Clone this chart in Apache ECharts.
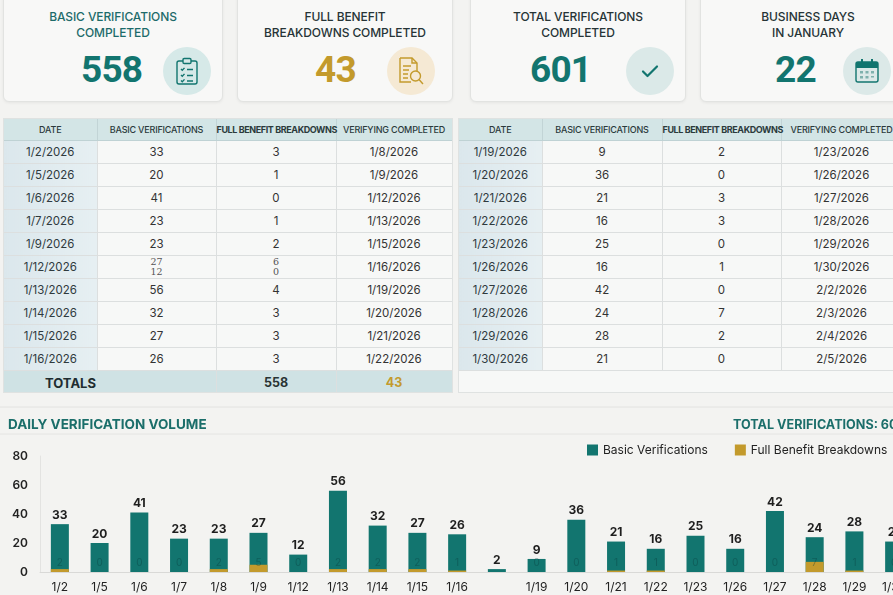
<!DOCTYPE html>
<html>
<head>
<meta charset="utf-8">
<script src="https://cdn.jsdelivr.net/npm/echarts@6/dist/echarts.min.js"></script>
<style>
  html, body { margin:0; padding:0; width:893px; height:595px; overflow:hidden; background:#f3f3f1; font-family: Inter, "Noto Sans", sans-serif; }
  #page { position:relative; width:930px; height:600px; }
  .card { position:absolute; top:-8px; height:110px; background:#f8f8f7; border:1px solid #e2e3e1; border-radius:6px; box-shadow:0 1px 3px rgba(0,0,0,0.06); box-sizing:border-box; }
  .card .t { position:absolute; left:0; right:0; top:16px; text-align:center; font-size:12px; line-height:16px; color:#263436; font-weight:500; letter-spacing:-0.1px; }
  .card .n { position:absolute; top:57px; font-family:Roboto, Inter, sans-serif; font-size:37px; font-weight:700; line-height:40px; letter-spacing:-0.8px; }
  .card .ic { position:absolute; top:54px; width:48px; height:48px; border-radius:50%; display:flex; align-items:center; justify-content:center; }
  .panel { position:absolute; top:118px; background:#f7f8f7; border:1px solid #dfe2e1; box-sizing:border-box; overflow:hidden; }
  table { border-collapse:collapse; table-layout:fixed; }
  th { height:21px; background:#d3e5e6; font-size:9px; font-weight:500; color:#2b3a3c; border-right:1px solid #c2d4d6; border-bottom:1px solid #bfd2d4; padding:0; white-space:nowrap; letter-spacing:-0.2px; }
  th.b { font-weight:700; letter-spacing:-0.4px; }
  td { height:22px; font-size:11.5px; color:#333; text-align:center; border-right:1px solid #dcdfdf; border-bottom:1px solid #dcdfdf; padding:0; }
  td.d { background:linear-gradient(90deg,#dbe7ec,#e6eff2); color:#2f3a3e; }
  td .s { display:block; font-size:9.5px; line-height:10px; font-family:"DejaVu Serif", serif; color:#555; }
  tr.tot td { height:23px; background:#cfe2e4; font-weight:700; border-bottom:none; }
  #chart { position:absolute; left:0; top:400px; width:930px; height:200px; }
</style>
</head>
<body>
<div id="page">
  <div id="cards"></div>
  <div class="panel" style="left:3px;width:450px;height:275px;" id="tL"></div>
  <div class="panel" style="left:458px;width:445px;height:275px;" id="tR"></div>
  <div id="chart"></div>
</div>
<script>
// ---------- data ----------
const kpiTitles = ['BASIC VERIFICATIONS<br>COMPLETED', 'FULL BENEFIT<br>BREAKDOWNS COMPLETED', 'TOTAL VERIFICATIONS<br>COMPLETED', 'BUSINESS DAYS<br>IN JANUARY'];
const kpiValues = ['558', '43', '601', '22'];

const tableHeaders = ['DATE', 'BASIC VERIFICATIONS', 'FULL BENEFIT BREAKDOWNS', 'VERIFYING COMPLETED'];
const leftDates = ['1/2/2026','1/5/2026','1/6/2026','1/7/2026','1/9/2026','1/12/2026','1/13/2026','1/14/2026','1/15/2026','1/16/2026'];
const leftBasic = [33, 20, 41, 23, 23, [27, 12], 56, 32, 27, 26];
const leftFull = [3, 1, 0, 1, 2, [6, 0], 4, 3, 3, 3];
const leftDone = ['1/8/2026','1/9/2026','1/12/2026','1/13/2026','1/15/2026','1/16/2026','1/19/2026','1/20/2026','1/21/2026','1/22/2026'];
const leftTotals = ['TOTALS', '558', '43'];

const rightDates = ['1/19/2026','1/20/2026','1/21/2026','1/22/2026','1/23/2026','1/26/2026','1/27/2026','1/28/2026','1/29/2026','1/30/2026'];
const rightBasic = [9, 36, 21, 16, 25, 16, 42, 24, 28, 21];
const rightFull = [2, 0, 3, 3, 0, 1, 0, 7, 2, 0];
const rightDone = ['1/23/2026','1/26/2026','1/27/2026','1/28/2026','1/29/2026','1/30/2026','2/2/2026','2/3/2026','2/4/2026','2/5/2026'];

const categories = ['1/2','1/5','1/6','1/7','1/8','1/9','1/12','1/13','1/14','1/15','1/16','','1/19','1/20','1/21','1/22','1/23','1/26','1/27','1/28','1/29','1/30'];
const basicValues = [33, 20, 41, 23, 23, 27, 12, 56, 32, 27, 26, 2, 9, 36, 21, 16, 25, 16, 42, 24, 28, 21];
const fullValues = [2, 0, 0, 0, 2, 5, 0, 2, 2, 2, 1, null, 0, 0, 1, 1, 0, 0, 0, 7, 1, 0];
const seriesNames = ['Basic Verifications', 'Full Benefit Breakdowns'];
const chartTitle = 'DAILY VERIFICATION VOLUME';
const chartTotal = 'TOTAL VERIFICATIONS: 601';

// ---------- styles ----------
const TEAL = '#12756f', GOLD = '#c39a2c';

// ---------- KPI cards ----------
const icons = [
  '<svg width="24" height="28" viewBox="0 0 24 28" fill="none" stroke="'+TEAL+'" stroke-width="1.4"><rect x="2" y="4" width="20" height="23" rx="2"/><rect x="8" y="1.5" width="8" height="5" rx="1.2" fill="#d6e9e8"/><path d="M6 12l1.3 1.3 2.2-2.4M6 18l1.3 1.3 2.2-2.4M6 23.5l1.3 1.3 2.2-2.4"/><path d="M12 12.5h6M12 18.5h6M12 24h6"/></svg>',
  '<svg width="28" height="30" viewBox="0 0 28 30" fill="none" stroke="'+GOLD+'" stroke-width="1.4"><path d="M3 2h12l5 5v8"/><path d="M3 2v24h11"/><path d="M15 2v5h5"/><path d="M6 10h8M6 14h6M6 18h5M6 22h5"/><circle cx="18.5" cy="20" r="5"/><path d="M22 23.5l4 4.5"/></svg>',
  '<svg width="26" height="26" viewBox="0 0 26 26" fill="none" stroke="'+TEAL+'" stroke-width="2.2" stroke-linecap="round" stroke-linejoin="round"><path d="M6 13.5l4.5 4.5L20 8.5"/></svg>',
  '<svg width="28" height="28" viewBox="0 0 28 28"><rect x="3" y="5" width="22" height="20" rx="2" fill="none" stroke="'+TEAL+'" stroke-width="1.4"/><rect x="3" y="5" width="22" height="6" fill="'+TEAL+'"/><rect x="8" y="2" width="2" height="6" fill="'+TEAL+'"/><rect x="18" y="2" width="2" height="6" fill="'+TEAL+'"/><g fill="#7fb1ad"><rect x="7" y="14" width="3" height="2.5"/><rect x="12.5" y="14" width="3" height="2.5"/><rect x="18" y="14" width="3" height="2.5"/><rect x="7" y="19" width="3" height="2.5"/><rect x="12.5" y="19" width="3" height="2.5"/><rect x="18" y="19" width="3" height="1.5"/></g></svg>'
];
const cardLayout = [
  {left:3, width:220, numLeft:77, icLeft:159, bg:'#d6e9e8', col:TEAL, tcol:'#1d6b6a'},
  {left:237, width:216, numLeft:77, icLeft:149, bg:'#f5e9d4', col:GOLD, tcol:'#263436'},
  {left:470, width:216, numLeft:59, icLeft:155, bg:'#dbe9e8', col:TEAL, tcol:'#263436'},
  {left:700, width:216, numLeft:74, icLeft:142, bg:'#dce9e8', col:TEAL, tcol:'#263436'}
];
let ch = '';
kpiTitles.forEach((t, i) => {
  const c = cardLayout[i];
  ch += '<div class="card" style="left:'+c.left+'px;width:'+c.width+'px">' +
        '<div class="t" style="color:'+c.tcol+'">'+t+'</div>' +
        '<div class="n" style="left:'+c.numLeft+'px;color:'+c.col+'">'+kpiValues[i]+'</div>' +
        '<div class="ic" style="left:'+c.icLeft+'px;background:'+c.bg+'">'+icons[i]+'</div></div>';
});
document.getElementById('cards').innerHTML = ch;

// ---------- tables ----------
function cell(v) {
  if (Array.isArray(v)) return '<span class="s">'+v[0]+'</span><span class="s">'+v[1]+'</span>';
  return v;
}
function buildTable(widths, dates, basic, full, done, totals) {
  let h = '<table style="width:'+widths.reduce((a,b)=>a+b,0)+'px"><colgroup>' + widths.map(w=>'<col style="width:'+w+'px">').join('') + '</colgroup><tr>';
  tableHeaders.forEach((t, i) => { h += '<th class="'+(i===2?'b':'')+'">'+t+'</th>'; });
  h += '</tr>';
  dates.forEach((d, i) => {
    h += '<tr><td class="d">'+d+'</td><td>'+cell(basic[i])+'</td><td>'+cell(full[i])+'</td><td>'+done[i]+'</td></tr>';
  });
  if (totals) {
    h += '<tr class="tot"><td colspan="2" style="text-align:left;padding-left:41px;font-size:13px;color:#1f2d30">'+totals[0]+'</td>' +
         '<td style="font-size:12.5px;color:#2a3434">'+totals[1]+'</td><td style="font-size:12.5px;color:'+GOLD+'">'+totals[2]+'</td></tr>';
  }
  return h + '</table>';
}
document.getElementById('tL').innerHTML = buildTable([93,119,120,116], leftDates, leftBasic, leftFull, leftDone, leftTotals);
document.getElementById('tR').innerHTML = buildTable([83,120,119,121], rightDates, rightBasic, rightFull, rightDone, null);

// ---------- chart ----------
const chart = echarts.init(document.getElementById('chart'));
chart.setOption({
  animation: false,
  textStyle: { fontFamily: 'Inter, "Noto Sans", sans-serif' },
  title: [
    { text: chartTitle, left: 8, top: 18, padding: 0, textStyle: { fontSize: 13.5, fontWeight: 700, color: '#1b6e6a' } },
    { text: chartTotal, left: 733, top: 19, padding: 0, textStyle: { fontSize: 12.6, fontWeight: 700, color: '#1b6e6a' } }
  ],
  graphic: [
    { type: 'line', shape: { x1: 0, y1: 7, x2: 930, y2: 7 }, style: { stroke: '#e2e2e0', lineWidth: 1 } },
    { type: 'line', shape: { x1: 0, y1: 34, x2: 930, y2: 34 }, style: { stroke: '#e4e4e2', lineWidth: 1 } }
  ],
  legend: {
    left: 587, top: 44, padding: 0, itemWidth: 11, itemHeight: 11, itemGap: 27,
    icon: 'rect',
    textStyle: { fontSize: 12, color: '#222' },
    data: seriesNames
  },
  grid: { left: 40, right: 16, top: 56, bottom: 28 },
  xAxis: {
    type: 'category', data: categories,
    axisLine: { lineStyle: { color: '#d9d9d7' } },
    axisTick: { show: false },
    axisLabel: { fontSize: 12, color: '#222', margin: 9, interval: 0 }
  },
  yAxis: {
    type: 'value', min: 0, max: 80, interval: 20,
    axisLine: { show: true, lineStyle: { color: '#e3e3e1' } },
    splitLine: { show: false },
    axisLabel: { fontSize: 12, fontWeight: 600, color: '#222', margin: 12 }
  },
  series: [
    {
      name: seriesNames[0], type: 'bar', data: basicValues, barWidth: 18,
      itemStyle: { color: TEAL },
      label: { show: true, position: 'top', distance: 3, fontSize: 12, fontWeight: 700, color: '#1e1e1e' }
    },
    {
      name: seriesNames[1], type: 'bar', data: fullValues, barWidth: 18, barGap: '-100%',
      itemStyle: { color: GOLD },
      label: { show: true, position: 'insideBottom', distance: 4, fontSize: 10, color: 'rgba(10,60,60,0.4)' }
    }
  ]
});
</script>
</body>
</html>
